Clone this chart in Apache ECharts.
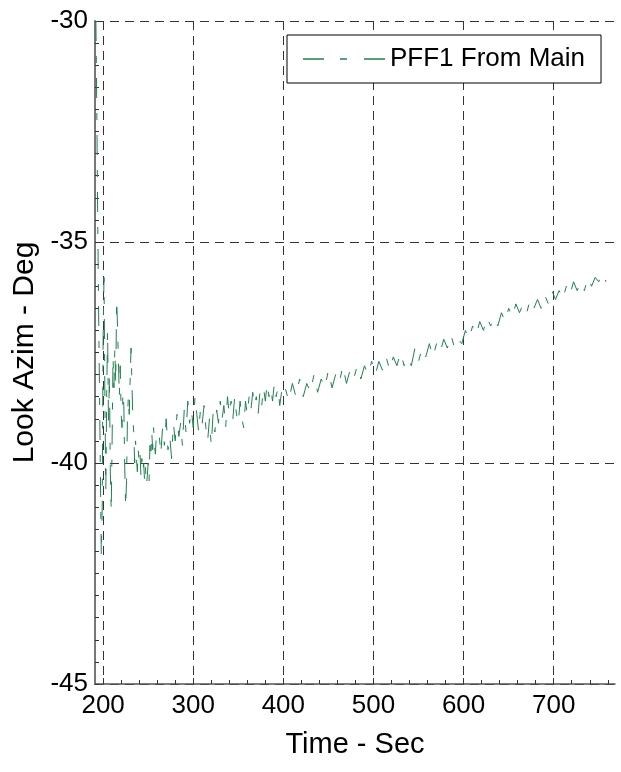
<!DOCTYPE html>
<html>
<head>
<meta charset="utf-8">
<script src="https://cdn.jsdelivr.net/npm/echarts@6/dist/echarts.min.js"></script>
<style>
html,body{margin:0;padding:0;background:#fff;}
#chart{width:621px;height:772px;}
</style>
</head>
<body>
<div id="chart"></div>
<script>
// ---- data ----
var seriesName = 'PFF1 From Main';
var xTickValues = [200, 300, 400, 500, 600, 700];
var xMinorTickValues = [200,220,240,260,280,300,320,340,360,380,400,420,440,460,480,500,520,540,560,580,600,620,640,660,680,700,720,740,760];

var timeSec = [
192,193,194,195,196,197,198,199,200,201,202,203,204,205,206,207,208,209,210,211,
212,213,214,215,216,217,218,219,220,221,222,223,224,225,226,227,228,229,230,231,
232,233,234,235,236,237,238,239,240,241,242,243,244,245,246,247,248,249,250,251,
252,253,254,255,256,257,258,259,
262,264,266,268,270,272,274,276,278,280,282,284,286,288,290,292,294,296,298,300,
302,304,306,308,310,312,314,316,318,320,322,324,326,328,330,332,334,336,338,340,
342,344,346,348,350,352,354,356,358,360,362,364,366,368,370,372,374,376,378,380,
382,384,386,388,390,392,394,396,398,400,
402,406,410,414,418,422,426,430,434,438,442,446,450,454,458,462,466,470,474,478,
482,486,490,494,498,502,506,510,514,518,522,526,530,534,538,542,546,550,554,558,
562,566,570,574,578,582,586,590,594,598,602,606,610,614,618,622,626,630,634,638,
642,646,650,654,658,662,666,670,674,678,682,686,690,694,698,702,706,710,714,718,
722,726,730,734,738,742,746,750,754,758
];

var lookAzimDeg = [
-30.0,-32.0,-34.5,-36.5,-38.4,-40.3,-42.1,-41.0,-37.2,-35.8,-38.6,-40.6,-38.4,-37.0,-39.2,-38.0,-40.2,-41.1,-39.5,-37.6,
-38.3,-37.4,-38.2,-36.3,-36.9,-37.7,-38.5,-37.8,-38.9,-39.2,-38.4,-38.7,-40.1,-41.0,-40.4,-39.0,-38.5,-38.9,-38.1,-37.4,
-38.2,-39.0,-39.3,-40.0,-39.5,-39.9,-40.2,-39.7,-40.0,-39.8,-40.3,-39.9,-40.2,-40.0,-40.4,-40.1,-40.5,-40.3,-40.0,-40.4,
-39.6,-39.9,-39.3,-39.7,-39.2,-39.6,-39.8,-39.4,
-39.3,-39.8,-39.2,-39.6,-39.0,-39.7,-39.4,-39.9,-39.1,-39.5,-38.9,-39.4,-39.1,-39.6,-38.8,-39.3,-38.6,-39.1,-38.8,-39.2,
-38.5,-38.9,-39.3,-38.8,-39.1,-38.7,-39.2,-39.5,-39.0,-39.6,-38.9,-39.3,-38.8,-39.1,-38.6,-39.0,-38.7,-39.2,-38.5,-38.9,
-38.6,-39.0,-38.5,-38.9,-39.1,-38.6,-39.0,-39.2,-38.6,-38.9,-38.5,-38.8,-38.4,-38.7,-38.5,-38.9,-38.4,-38.7,-38.3,-38.6,
-38.2,-38.5,-38.3,-38.6,-38.2,-38.5,-38.3,-38.7,-38.4,-38.5,
-38.3,-38.6,-38.2,-38.5,-38.1,-38.5,-38.2,-38.4,-38.0,-38.4,-38.1,-38.3,-37.9,-38.3,-38.0,-38.2,-37.8,-38.2,-37.9,-38.1,
-37.8,-38.1,-37.8,-38.0,-37.7,-38.0,-37.7,-37.9,-37.6,-37.9,-37.6,-37.8,-37.5,-37.8,-37.6,-37.8,-37.4,-37.7,-37.4,-37.6,
-37.3,-37.6,-37.3,-37.5,-37.2,-37.4,-37.1,-37.4,-37.2,-37.3,-37.0,-37.2,-36.9,-37.1,-36.8,-37.0,-36.7,-36.9,-36.7,-36.9,
-36.6,-36.8,-36.5,-36.7,-36.4,-36.6,-36.4,-36.6,-36.3,-36.5,-36.3,-36.5,-36.2,-36.4,-36.1,-36.3,-36.1,-36.3,-36.0,-36.2,
-35.9,-36.1,-35.9,-36.1,-35.8,-36.0,-35.8,-35.9,-35.7,-35.9
];

// ---- chart ----
var FONT = '"Liberation Sans", Arial, sans-serif';
var LINE_COLOR = '#22804f';
var chart = echarts.init(document.getElementById('chart'), null, {renderer: 'canvas'});
var seriesData = timeSec.map(function (t, i) { return [t, lookAzimDeg[i]]; });

var option = {
  animation: false,
  backgroundColor: '#fff',
  textStyle: {fontFamily: FONT, color: '#000'},
  grid: {left: 95, right: 6, top: 21, bottom: 88, containLabel: false},
  legend: {
    show: true,
    left: 287, top: 35,
    padding: [11, 16, 11, 16],
    backgroundColor: '#fff',
    borderColor: '#000', borderWidth: 1, borderRadius: 0,
    itemWidth: 82, itemHeight: 1.4,
    symbolKeepAspect: false,
    icon: 'path://M0,0H21V2H0Z M37,0H44V2H37Z M61,0H82V2H61Z',
    itemStyle: {color: LINE_COLOR},
    textStyle: {fontSize: 26, fontFamily: FONT, color: '#000'},
    data: [seriesName]
  },
  xAxis: [{
    type: 'value',
    min: 191, max: 768,
    position: 'bottom',
    name: 'Time - Sec',
    nameLocation: 'middle',
    nameGap: 46,
    nameTextStyle: {fontSize: 29, fontFamily: FONT, color: '#000'},
    axisLine: {show: true, onZero: false, lineStyle: {color: '#555', width: 1.5}},
    axisTick: {show: true, inside: true, length: 6, customValues: xTickValues, lineStyle: {color: '#333'}},
    axisLabel: {show: true, customValues: xTickValues, fontSize: 26, fontFamily: FONT, color: '#000', margin: 9},
    splitLine: {show: true, lineStyle: {color: '#333', type: [9, 6], width: 1}}
  }, {
    type: 'value',
    min: 191, max: 768,
    position: 'bottom',
    axisLine: {show: false},
    axisLabel: {show: false},
    splitLine: {show: false},
    axisTick: {show: true, inside: true, length: 4, customValues: xMinorTickValues, lineStyle: {color: '#333'}}
  }],
  yAxis: {
    type: 'value',
    min: -45, max: -30, interval: 5,
    name: 'Look Azim - Deg',
    nameLocation: 'middle',
    nameGap: 55,
    nameTextStyle: {fontSize: 30, fontFamily: FONT, color: '#000'},
    axisLine: {show: true, onZero: false, lineStyle: {color: '#777', width: 2}},
    axisTick: {show: true, inside: true, length: 4, lineStyle: {color: '#333'}},
    minorTick: {show: true, splitNumber: 10, length: 4, lineStyle: {color: '#333'}},
    axisLabel: {fontSize: 26, fontFamily: FONT, color: '#000', margin: 7},
    splitLine: {show: true, lineStyle: {color: '#333', type: [9, 6], width: 1}}
  },
  series: [{
    name: seriesName,
    type: 'line',
    xAxisIndex: 0,
    symbol: 'none',
    showSymbol: false,
    data: seriesData,
    lineStyle: {color: LINE_COLOR, width: 1, type: [20, 15, 7, 15]},
    itemStyle: {color: LINE_COLOR},
    clip: true
  }]
};
chart.setOption(option);
</script>
</body>
</html>
